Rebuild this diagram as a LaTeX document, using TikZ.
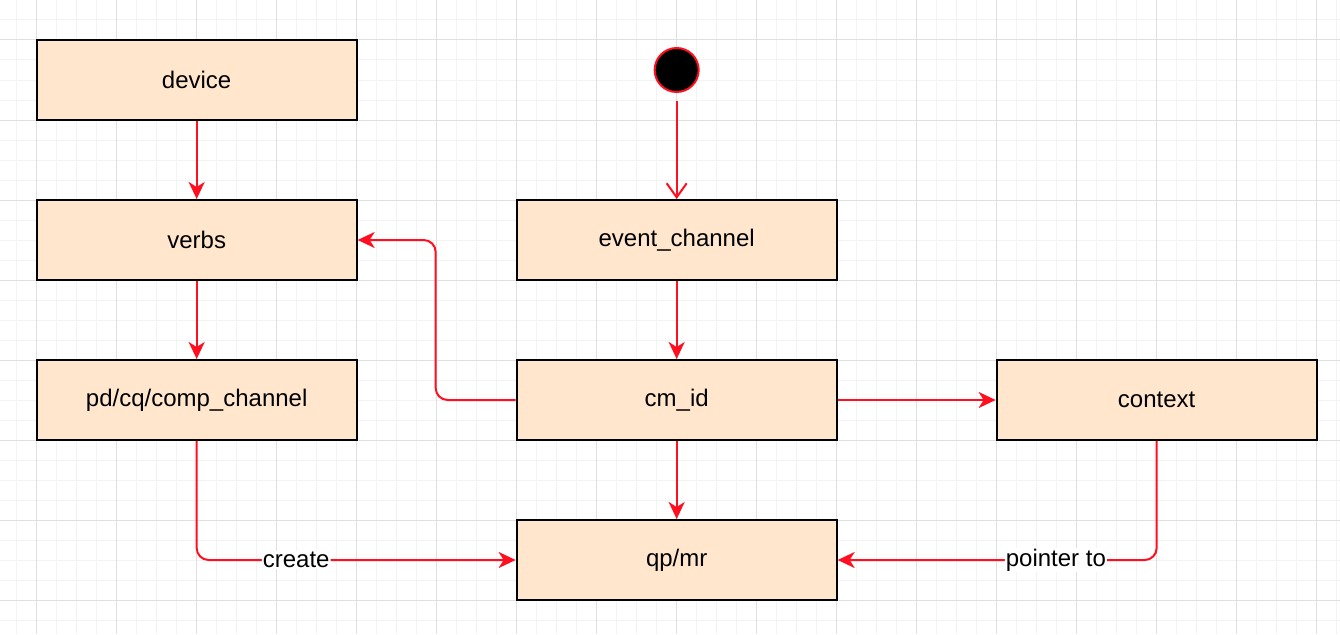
\documentclass[tikz,border=0pt]{standalone}
\usepackage{fontspec}
\setmainfont{Liberation Sans}
\usetikzlibrary{arrows.meta}
\definecolor{boxfill}{HTML}{FFE6CC}
\definecolor{edgered}{HTML}{FF0F1F}
\definecolor{gridmajor}{HTML}{E0E0E0}
\definecolor{gridminor}{HTML}{F3F3F3}
\begin{document}
\begin{tikzpicture}[x=1pt,y=-1pt,
  box/.style={draw=black, line width=2pt, fill=boxfill, minimum width=320pt, minimum height=80pt, inner sep=0pt, font=\fontsize{24}{28}\selectfont},
  edge/.style={draw=edgered, line width=2pt, rounded corners=12pt, -{Stealth[length=17pt,width=16pt,inset=5pt]}},
  openedge/.style={draw=edgered, line width=2pt, -{Straight Barb[length=14pt,width=20pt,line width=2pt]}},
  lbl/.style={fill=white, inner sep=1pt, font=\fontsize{24}{28}\selectfont, text=black},
  startdot/.style={circle, draw=edgered, fill=black, line width=2pt, minimum size=44pt, inner sep=0pt}
]
\useasboundingbox (0,0) rectangle (1340,634);
\fill[white] (0,0) rectangle (1340,634);
% grid
\foreach \i in {0,...,66} \draw[gridminor, line width=1pt] ({16.667+20*\i},0) -- ({16.667+20*\i},634);
\foreach \j in {1,...,31} \draw[gridminor, line width=1pt] (0,{20*\j}) -- (1340,{20*\j});
\foreach \i in {0,...,16} \draw[gridmajor, line width=1pt] ({36.667+80*\i},0) -- ({36.667+80*\i},634);
\foreach \j in {0,...,7} \draw[gridmajor, line width=1pt] (0,{40+80*\j}) -- (1340,{40+80*\j});
% nodes
\node[box] (device) at (196.667,80) {device};
\node[box] (verbs) at (196.667,240) {verbs};
\node[box] (pd) at (196.667,400) {pd/cq/comp\_channel};
\node[startdot] (start) at (676.667,70) {};
\node[box] (event) at (676.667,240) {event\_channel};
\node[box] (cm) at (676.667,400) {cm\_id};
\node[box] (context) at (1156.667,400) {context};
\node[box] (qp) at (676.667,560) {qp/mr};
% edges
\draw[edge] (device) -- (verbs);
\draw[edge] (verbs) -- (pd);
\draw[openedge] ([yshift=-8pt]start.south) -- (event);
\draw[edge] (event) -- (cm);
\draw[edge] (cm) -- (qp);
\draw[edge] (cm) -- (context);
\draw[edge] (cm.west) -- ++(-80,0) |- (verbs.east);
\draw[edge] (pd.south) |- node[lbl, pos=0.656] {create} (qp.west);
\draw[edge] (context.south) |- node[lbl, pos=0.658] {pointer to} (qp.east);
\end{tikzpicture}
\end{document}
